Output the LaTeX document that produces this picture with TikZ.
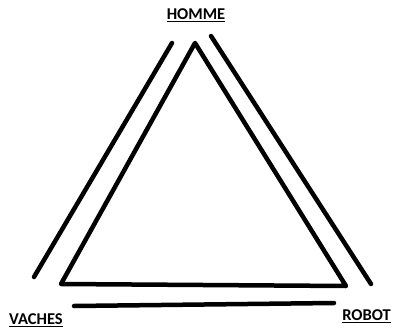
\documentclass[tikz,border=0pt]{standalone}
\usepackage{fontspec}
\setmainfont{Carlito}
\begin{document}
\begin{tikzpicture}[
  x=1pt,y=-1pt,
  stroke/.style={line width=4.5pt,line cap=round,line join=round},
  tag/.style={font=\fontsize{16.5}{20}\selectfont\bfseries,inner sep=0pt}
]
  \useasboundingbox (0,0) rectangle (393,329);
  % triangle
  \coordinate (top) at (195,43);
  \coordinate (left) at (61,284);
  \coordinate (right) at (346,286);
  \draw[stroke] (top) -- (left) -- (right) -- cycle;

  % outer strokes
  \coordinate (left-a) at (172,43);
  \coordinate (left-b) at (34,277);
  \coordinate (right-a) at (211,36);
  \coordinate (right-b) at (371,284);
  \coordinate (base-a) at (74,306);
  \coordinate (base-b) at (334,303);
  \draw[stroke] (left-a) -- (left-b);
  \draw[stroke] (right-a) -- (right-b);
  \draw[stroke] (base-a) -- (base-b);

  % labels
  \node[tag] (homme) at (196,15) {\underline{HOMME}};
  \node[tag] (vaches) at (36,320) {\underline{VACHES}};
  \node[tag,anchor=east] (robot) at (391,316) {\underline{ROBOT}};
\end{tikzpicture}
\end{document}
